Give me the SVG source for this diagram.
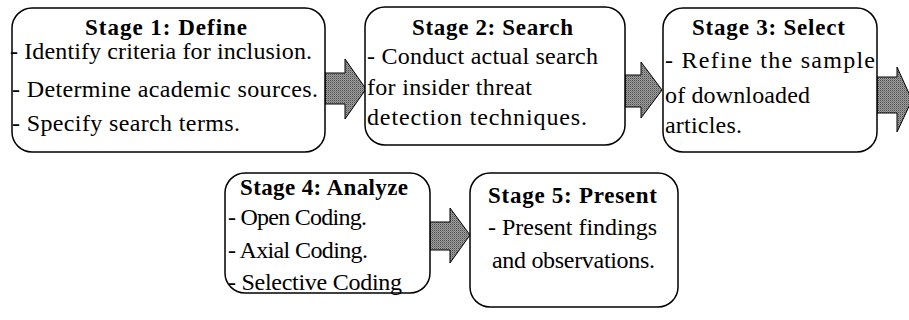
<svg xmlns="http://www.w3.org/2000/svg" width="909" height="320" viewBox="0 0 909 320">
<defs>
<pattern id="dots" width="2" height="2" patternUnits="userSpaceOnUse">
<rect width="2" height="2" fill="#a0a0a0"/>
<rect width="1" height="1" fill="#4a4a4a"/>
<rect x="1" y="1" width="1" height="1" fill="#7a7a7a"/>
</pattern>
</defs>
<style>
.box{fill:#fff;stroke:#000;stroke-width:1.5}
.arrow{fill:url(#dots);stroke:#000;stroke-width:1}
text{font-family:"Liberation Serif","Times New Roman",Times,serif;fill:#000}
.t{font-size:23px;font-weight:bold}
.b{font-size:24px}
</style>
<rect width="909" height="320" fill="#fff"/>
<g id="connectors">
<polygon class="arrow" points="325,73 345,73 345,59 366,89 345,119 345,104 325,104"/>
<polygon class="arrow" points="625,75 641,75 641,62 662,90 641,118 641,107 625,107"/>
<polygon class="arrow" points="877,77 897,77 897,67 912,100 897,132 897,113 877,113"/>
<polygon class="arrow" points="430,222 450,222 450,208 470,235 450,263 450,250 430,250"/>
</g>
<g id="stage1">
<rect class="box" x="12" y="8" width="313" height="144" rx="20"/>
<text class="t" x="85" y="35" textLength="162">Stage 1: Define</text>
<text class="b" x="10" y="59" textLength="302">- Identify criteria for inclusion.</text>
<text class="b" x="12" y="97" textLength="306">- Determine academic sources.</text>
<text class="b" x="12" y="131" textLength="228">- Specify search terms.</text>
</g>
<g id="stage2">
<rect class="box" x="365" y="7" width="260" height="138" rx="20"/>
<text class="t" x="412" y="35" textLength="161">Stage 2: Search</text>
<text class="b" x="367" y="64" textLength="231">- Conduct actual search</text>
<text class="b" x="367" y="95" textLength="165">for insider threat</text>
<text class="b" x="367" y="125" textLength="220">detection techniques.</text>
</g>
<g id="stage3">
<rect class="box" x="663" y="8" width="214" height="144" rx="20"/>
<text class="t" x="692" y="35" textLength="153">Stage 3: Select</text>
<text class="b" x="665" y="68" textLength="210">- Refine the sample</text>
<text class="b" x="665" y="103" textLength="145">of downloaded</text>
<text class="b" x="665" y="133" textLength="77">articles.</text>
</g>
<g id="stage4">
<rect class="box" x="225" y="173" width="205" height="120" rx="20"/>
<text class="t" x="240" y="195" textLength="168">Stage 4: Analyze</text>
<text class="b" x="228" y="225" textLength="139">- Open Coding.</text>
<text class="b" x="228" y="258" textLength="140">- Axial Coding.</text>
<text class="b" x="228" y="290" textLength="174">- Selective Coding</text>
</g>
<g id="stage5">
<rect class="box" x="470" y="173" width="208" height="134" rx="20"/>
<text class="t" x="488" y="203" textLength="169">Stage 5: Present</text>
<text class="b" x="488" y="235" textLength="169">- Present findings</text>
<text class="b" x="492" y="268" textLength="163">and observations.</text>
</g>
</svg>
